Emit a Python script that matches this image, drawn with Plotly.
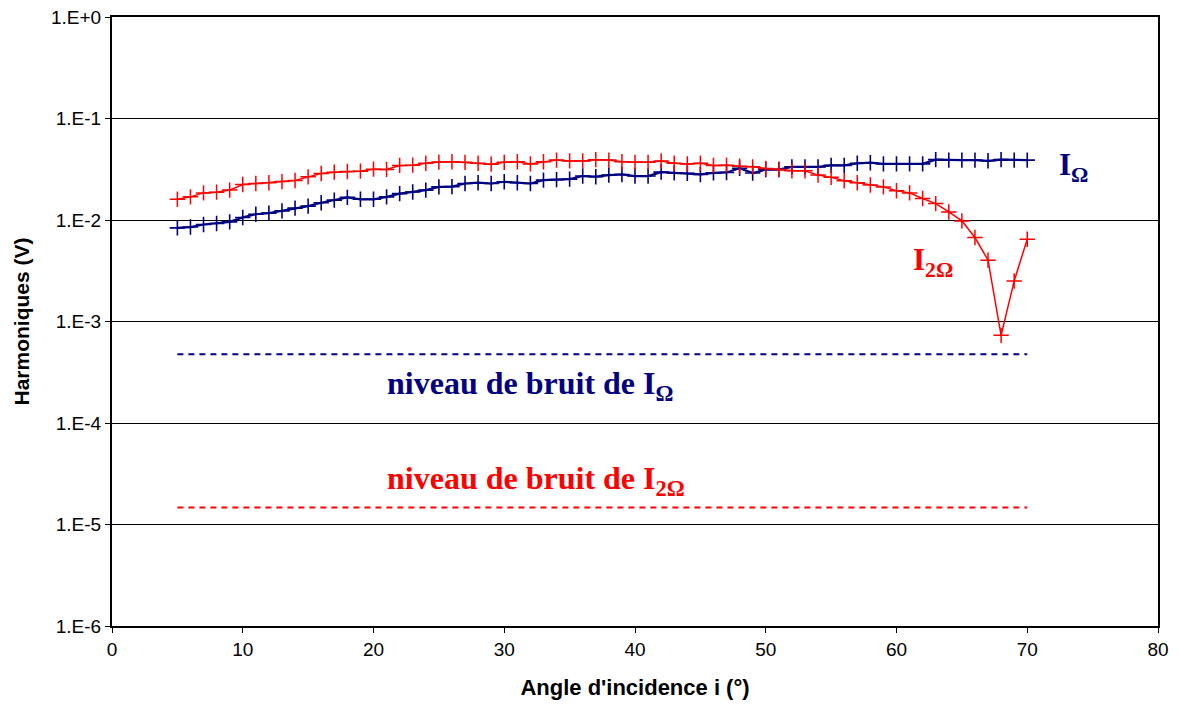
import plotly.graph_objects as go

angles = list(range(5, 71))

i_omega = [0.00836, 0.00852, 0.00903, 0.00925, 0.00958, 0.0106, 0.0114, 0.0117, 0.0123, 0.0131,
           0.0137, 0.0148, 0.0157, 0.0167, 0.0160, 0.0160, 0.0169, 0.0182, 0.0189, 0.0197,
           0.0212, 0.0213, 0.0229, 0.0233, 0.0229, 0.0238, 0.0233, 0.0229, 0.0247, 0.0250,
           0.0253, 0.0271, 0.0267, 0.0277, 0.0281, 0.0271, 0.0271, 0.0296, 0.0291, 0.0289,
           0.0281, 0.0291, 0.0294, 0.0324, 0.0290, 0.0314, 0.0314, 0.0334, 0.0334, 0.0334,
           0.0345, 0.0345, 0.0362, 0.0367, 0.0357, 0.0357, 0.0357, 0.0357, 0.0393, 0.0389,
           0.0389, 0.0389, 0.0383, 0.0393, 0.0389, 0.0389]

i_2omega = [0.0160, 0.0169, 0.0185, 0.0188, 0.0197, 0.0224, 0.0229, 0.0233, 0.0239, 0.0245,
            0.0266, 0.0287, 0.0296, 0.0300, 0.0303, 0.0317, 0.0315, 0.0345, 0.0347, 0.0362,
            0.0372, 0.0375, 0.0370, 0.0362, 0.0355, 0.0370, 0.0375, 0.0357, 0.0375, 0.0389,
            0.0382, 0.0382, 0.0393, 0.0389, 0.0375, 0.0370, 0.0370, 0.0382, 0.0362, 0.0357,
            0.0362, 0.0345, 0.0347, 0.0338, 0.0334, 0.0322, 0.0314, 0.0305, 0.0305, 0.0277,
            0.0263, 0.0244, 0.0233, 0.0221, 0.0212, 0.0194, 0.0185, 0.0163, 0.0145, 0.0120,
            0.0098, 0.00672, 0.00402, 0.00073, 0.00251, 0.00647]

noise_x = [5, 70]
noise_omega = [4.75e-4, 4.75e-4]
noise_2omega = [1.47e-5, 1.47e-5]

y_tickvals = [1e0, 1e-1, 1e-2, 1e-3, 1e-4, 1e-5, 1e-6]
y_ticktext = ["1.E+0", "1.E-1", "1.E-2", "1.E-3", "1.E-4", "1.E-5", "1.E-6"]

NAVY = "#000080"
RED = "#FF0000"

fig = go.Figure()
fig.add_trace(go.Scatter(x=noise_x, y=noise_omega, mode="lines",
                         line=dict(color=NAVY, width=2, dash="6px,5px"), showlegend=False))
fig.add_trace(go.Scatter(x=noise_x, y=noise_2omega, mode="lines",
                         line=dict(color=RED, width=2, dash="6px,5px"), showlegend=False))
fig.add_trace(go.Scatter(x=angles, y=i_omega, mode="lines+markers",
                         line=dict(color=NAVY, width=2.2),
                         marker=dict(symbol="cross-thin", size=11, line=dict(color=NAVY, width=1.6)),
                         showlegend=False))
fig.add_trace(go.Scatter(x=angles, y=i_2omega, mode="lines+markers",
                         line=dict(color=RED, width=1.5),
                         marker=dict(symbol="cross-thin", size=11, line=dict(color=RED, width=1.5)),
                         showlegend=False))

serif = "Liberation Serif, Times New Roman, serif"
ann = [
    dict(x=73.5, y=-1.478, text="<b>I<sub>Ω</sub></b>", color=NAVY, size=31, xanchor="center"),
    dict(x=62.8, y=-2.414, text="<b>I<sub>2Ω</sub></b>", color=RED, size=31, xanchor="center"),
    dict(x=20.9, y=-3.626, text="<b>niveau de bruit de I<sub>Ω</sub></b>", color=NAVY, size=32, xanchor="left"),
    dict(x=20.9, y=-4.562, text="<b>niveau de bruit de I<sub>2Ω</sub></b>", color=RED, size=32, xanchor="left"),
]
for a in ann:
    fig.add_annotation(x=a["x"], y=a["y"], xref="x", yref="y", text=a["text"], showarrow=False,
                       xanchor=a["xanchor"], yanchor="middle",
                       font=dict(family=serif, size=a["size"], color=a["color"]))

sans = "Liberation Sans, Arial, sans-serif"
fig.update_xaxes(range=[0, 80], dtick=10, tick0=0, showgrid=False, zeroline=False,
                 showline=True, linecolor="black", linewidth=2, mirror=True,
                 ticks="outside", ticklen=5, tickcolor="black", tickwidth=1,
                 tickfont=dict(family=sans, size=19, color="black"),
                 title=dict(text="<b>Angle d'incidence i (°)</b>", standoff=21,
                            font=dict(family=sans, size=22, color="black")))
fig.update_yaxes(type="log", range=[-6, 0], tickvals=y_tickvals, ticktext=y_ticktext,
                 showgrid=True, gridcolor="black", gridwidth=1, zeroline=False,
                 showline=True, linecolor="black", linewidth=2, mirror=True,
                 ticks="outside", ticklen=5, tickcolor="black", tickwidth=1,
                 tickfont=dict(family=sans, size=19, color="black"),
                 title=dict(text="<b>Harmoniques (V)</b>", standoff=16,
                            font=dict(family=sans, size=21, color="black")))

fig.update_layout(width=1179, height=708, plot_bgcolor="white", paper_bgcolor="white",
                  margin=dict(l=112, r=21, t=17, b=82, autoexpand=False))

fig.write_html("out.html", config={"displayModeBar": False},
               post_script="document.body.style.margin='0px';")
